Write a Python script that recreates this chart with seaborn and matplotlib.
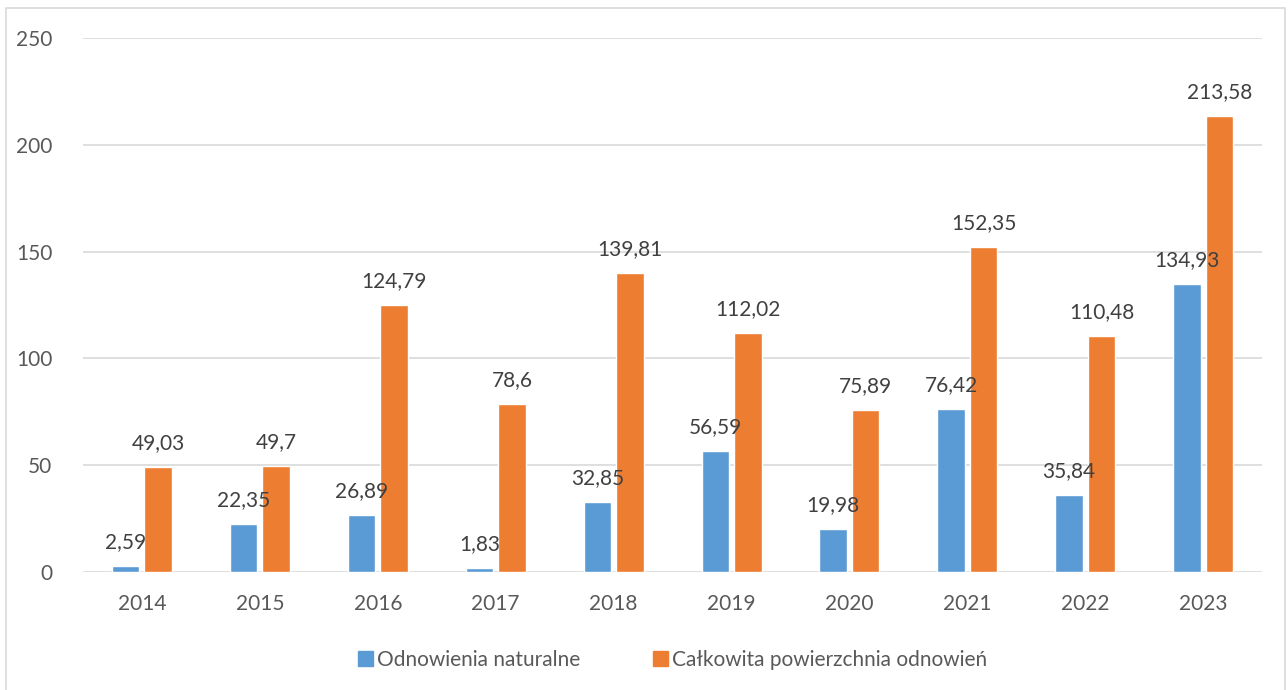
import pandas as pd
import matplotlib.pyplot as plt
import matplotlib.patches as mpatches
import seaborn as sns

years = ["2014", "2015", "2016", "2017", "2018", "2019", "2020", "2021", "2022", "2023"]
natural = [2.59, 22.35, 26.89, 1.83, 32.85, 56.59, 19.98, 76.42, 35.84, 134.93]
total = [49.03, 49.7, 124.79, 78.6, 139.81, 112.02, 75.89, 152.35, 110.48, 213.58]
series = ["Odnowienia naturalne", "Całkowita powierzchnia odnowień"]
colors = ["#5B9BD5", "#ED7D31"]

df = pd.DataFrame({
    "rok": years * 2,
    "wartosc": natural + total,
    "seria": [series[0]] * len(years) + [series[1]] * len(years),
})

sns.set_theme(style="white")
plt.rcParams["font.family"] = ["Lato", "DejaVu Sans"]
text_col = "#595959"

fig = plt.figure(figsize=(12.88, 6.9), dpi=100)
ax = fig.add_axes([0.0644, 0.171, 0.9156, 0.774])

sns.barplot(data=df, x="rok", y="wartosc", hue="seria", palette=colors,
            saturation=1, width=0.55, gap=0.15, ax=ax, legend=True)

ax.set_ylim(0, 250)
ax.set_xlim(-0.5, 9.5)
ax.set_yticks(range(0, 251, 50))
ax.yaxis.grid(True, color="#d9d9d9", linewidth=1.2)
ax.set_axisbelow(True)
for s in ax.spines.values():
    s.set_visible(False)
ax.set_xlabel("")
ax.set_ylabel("")
ax.tick_params(axis="x", length=0, labelsize=15, labelcolor=text_col, pad=16)
ax.tick_params(axis="y", length=0, labelsize=15, labelcolor=text_col, pad=22)

# data labels with comma decimal separator
for cont in ax.containers:
    labels = [("%g" % b.get_height()).replace(".", ",") for b in cont]
    ax.bar_label(cont, labels=labels, padding=10, fontsize=15, color="#404040")

handles = [mpatches.Patch(color=c) for c in colors]
ax.legend(handles, series, loc="upper center", bbox_to_anchor=(0.5, -0.11),
          ncol=2, frameon=False, fontsize=15, labelcolor=text_col,
          handlelength=0.7, handleheight=0.7, handletextpad=0.2, columnspacing=3.5)

# light frame around the whole chart
fig.patches.append(mpatches.Rectangle((0.005, -0.01), 0.993, 0.998, transform=fig.transFigure,
                                      fill=False, edgecolor="#d9d9d9", linewidth=1.2))

fig.savefig("out.png", dpi=100)
